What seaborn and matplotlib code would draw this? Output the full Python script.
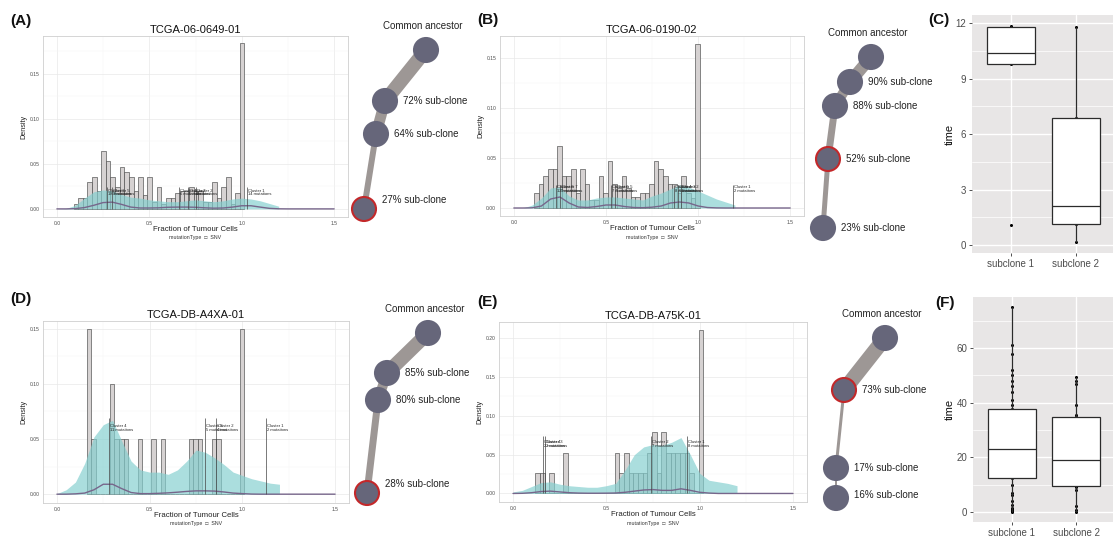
import numpy as np
import pandas as pd
import seaborn as sns
import matplotlib.pyplot as plt
from matplotlib.ticker import MultipleLocator

sns.set_style("white")
plt.rcParams["font.family"] = ["Liberation Sans", "DejaVu Sans"]

W, H = 1113, 536
BIN = 0.025

# shared x grids for the density curves
teal_x = [0.00, 0.05, 0.10, 0.15, 0.20, 0.25, 0.30, 0.35, 0.40, 0.45, 0.50, 0.55,
          0.60, 0.65, 0.70, 0.75, 0.80, 0.85, 0.90, 0.95, 1.00, 1.05, 1.10, 1.15, 1.20]
line_x = [0.00, 0.05, 0.10, 0.15, 0.20, 0.25, 0.30, 0.35, 0.40, 0.45, 0.50, 0.55,
          0.60, 0.65, 0.70, 0.75, 0.80, 0.85, 0.90, 0.95, 1.00, 1.05, 1.10, 1.15,
          1.20, 1.25, 1.30, 1.35, 1.40, 1.45, 1.50]

# (A) TCGA-06-0649-01
a_start = 0.09
a_hist = [0.005, 0.012, 0.012, 0.030, 0.035, 0.020, 0.064, 0.053, 0.035, 0.024,
          0.047, 0.041, 0.035, 0.020, 0.035, 0.015, 0.035, 0.008, 0.024, 0.005,
          0.012, 0.012, 0.018, 0.020, 0.020, 0.024, 0.020, 0.020, 0.008, 0.008,
          0.030, 0.012, 0.024, 0.035, 0.005, 0.018, 0.184]
a_teal = [0, 0.0005, 0.004, 0.012, 0.019, 0.021, 0.020, 0.016, 0.013, 0.012, 0.010, 0.009,
          0.008, 0.008, 0.009, 0.010, 0.009, 0.008, 0.009, 0.011, 0.012, 0.011, 0.009, 0.006, 0.003]
a_line = [0, 0, 0.0003, 0.0015, 0.004, 0.007, 0.0075, 0.005, 0.002, 0.001, 0.001, 0.0012,
          0.0018, 0.002, 0.002, 0.0018, 0.0012, 0.0008, 0.001, 0.002, 0.0035, 0.0035, 0.002,
          0.0006, 0.0001, 0, 0, 0, 0, 0, 0]
a_clust_x = [0.27, 0.30, 0.66, 0.71, 0.75, 1.03]
a_clust_lab = ["Cluster 6\n18 mutations", "Cluster 5\n9 mutations", "Cluster 4\n6 mutations",
               "Cluster 3\n5 mutations", "Cluster 2\n4 mutations", "Cluster 1\n14 mutations"]

# (B) TCGA-06-0190-02
b_start = 0.11
b_hist = [0.015, 0.024, 0.032, 0.039, 0.039, 0.062, 0.032, 0.032, 0.039, 0.015,
          0.039, 0.024, 0.008, 0.008, 0.032, 0.015, 0.047, 0.024, 0.020, 0.032,
          0.020, 0.011, 0.011, 0.015, 0.015, 0.024, 0.047, 0.039, 0.032, 0.024,
          0.024, 0.015, 0.032, 0.015, 0.010, 0.164]
b_teal = [0, 0, 0.003, 0.010, 0.020, 0.021, 0.012, 0.008, 0.008, 0.010, 0.011, 0.011,
          0.010, 0.009, 0.008, 0.012, 0.015, 0.019, 0.023, 0.021, 0.017, 0.013, 0.009, 0.006, 0.003]
b_line = [0, 0, 0.0002, 0.002, 0.009, 0.011, 0.005, 0.001, 0.0005, 0.0015, 0.003, 0.003,
          0.0015, 0.0005, 0.0003, 0.0008, 0.002, 0.005, 0.006, 0.005, 0.002, 0.0005, 0.0001,
          0, 0, 0, 0, 0, 0, 0, 0]
b_clust_x = [0.23, 0.25, 0.53, 0.55, 0.87, 0.89, 0.91, 1.19]
b_clust_lab = ["Cluster 8\n12 mutations", "Cluster 7\n9 mutations", "Cluster 6\n7 mutations",
               "Cluster 5\n5 mutations", "Cluster 4\n8 mutations", "Cluster 3\n6 mutations",
               "Cluster 2\n5 mutations", "Cluster 1\n2 mutations"]

# (D) TCGA-DB-A4XA-01
d_start = 0.16
d_hist = [0.15, 0.05, 0, 0, 0, 0.10, 0.05, 0.05, 0.05, 0, 0, 0.05, 0, 0, 0.05, 0, 0.05,
          0, 0, 0, 0, 0, 0.05, 0.05, 0.05, 0, 0, 0.05, 0.05, 0, 0, 0, 0, 0.15]
d_teal = [0.0005, 0.004, 0.011, 0.028, 0.052, 0.063, 0.067, 0.048, 0.030, 0.022, 0.020, 0.020,
          0.018, 0.022, 0.030, 0.040, 0.038, 0.033, 0.027, 0.020, 0.017, 0.014, 0.012, 0.010, 0.009]
d_line = [0, 0, 0.0003, 0.001, 0.004, 0.009, 0.009, 0.005, 0.0015, 0.0005, 0.0005, 0.0008,
          0.0012, 0.0018, 0.0025, 0.003, 0.003, 0.0028, 0.002, 0.001, 0.0005, 0.0001,
          0, 0, 0, 0, 0, 0, 0, 0, 0]
d_clust_x = [0.28, 0.80, 0.86, 1.13]
d_clust_lab = ["Cluster 4\n11 mutations", "Cluster 3\n5 mutations",
               "Cluster 2\n4 mutations", "Cluster 1\n2 mutations"]

# (E) TCGA-DB-A75K-01
e_start = 0.12
e_hist = [0.0265, 0.0265, 0, 0.0265, 0, 0, 0.052, 0, 0, 0, 0, 0, 0, 0, 0, 0, 0,
          0.052, 0.0265, 0.052, 0.0265, 0.0265, 0.0265, 0.0265, 0.052, 0.079, 0.0265,
          0.079, 0.052, 0.052, 0.052, 0.052, 0.052, 0.0265, 0, 0.211]
e_teal = [0.002, 0.004, 0.009, 0.014, 0.015, 0.012, 0.010, 0.009, 0.008, 0.008, 0.010, 0.013,
          0.030, 0.050, 0.060, 0.063, 0.062, 0.066, 0.072, 0.050, 0.026, 0.017, 0.015, 0.013, 0.010]
e_line = [0, 0.0002, 0.001, 0.0025, 0.003, 0.002, 0.001, 0.0005, 0.0003, 0.0003, 0.0004, 0.0006,
          0.0015, 0.003, 0.0045, 0.005, 0.004, 0.004, 0.006, 0.004, 0.0015, 0.0005,
          0, 0, 0, 0, 0, 0, 0, 0, 0]
e_clust_x = [0.16, 0.17, 0.74, 0.93]
e_clust_lab = ["Cluster 4\n2 mutations", "Cluster 3\n2 mutations",
               "Cluster 2\n7 mutations", "Cluster 1\n8 mutations"]

# clone trees (layout as drawn)
tree_a_x = [426, 385, 376, 364]
tree_a_y = [50, 101, 134, 209]
tree_a_lab = ["Common ancestor", "72% sub-clone", "64% sub-clone", "27% sub-clone"]
tree_a_w = [14, 11, 6]
tree_b_x = [871, 850, 835, 828, 823]
tree_b_y = [57, 82, 106, 159, 228]
tree_b_lab = ["Common ancestor", "90% sub-clone", "88% sub-clone", "52% sub-clone", "23% sub-clone"]
tree_b_w = [12, 10, 7, 5]
tree_d_x = [428, 387, 378, 367]
tree_d_y = [333, 373, 400, 493]
tree_d_lab = ["Common ancestor", "85% sub-clone", "80% sub-clone", "28% sub-clone"]
tree_d_w = [14, 10, 7]
tree_e_x = [885, 844, 836, 836]
tree_e_y = [338, 390, 468, 498]
tree_e_lab = ["Common ancestor", "73% sub-clone", "17% sub-clone", "16% sub-clone"]
tree_e_w = [15, 3, 2]

# timing box plots
clones = ["subclone 1", "subclone 2"]
c_sub1 = [1.1, 9.8, 10.4, 11.8, 11.85]
c_sub2 = [0.15, 1.15, 2.1, 6.9, 11.8]
f_sub1 = [0, 0.2, 0.5, 1, 1.5, 2.5, 4, 6, 7, 10, 12.3, 13, 15, 16, 17, 18, 19, 20, 21, 22,
          23, 24, 25, 27, 28, 30, 31, 33, 35, 36, 37.8, 39, 41, 44, 46, 48, 50, 52, 58, 61, 75]
f_sub2 = [0, 0.5, 2, 8, 9, 9.5, 12, 14, 16, 17.5, 19, 22, 26, 29, 32, 34.8, 35.5, 39, 47, 48, 49.5]

fig = plt.figure(figsize=(W / 100, H / 100), dpi=100)
fig.patch.set_facecolor("white")


def rect(left, top, right, bottom):
    return [left / W, 1 - bottom / H, (right - left) / W, (bottom - top) / H]


def ftext(x, y, s, **kw):
    fig.text(x / W, 1 - y / H, s, **kw)


def vaf_panel(px, title, start, hist, teal, line, cl_x, cl_lab, cl_top, cl_y, ylim, yticks):
    left, top, right, bottom = px
    ax = fig.add_axes(rect(*px))
    edges = start + BIN * np.arange(len(hist) + 1)
    bars = pd.DataFrame({"ccf": edges[:-1] + BIN / 2, "density": hist})
    sns.histplot(data=bars, x="ccf", weights="density", bins=edges.tolist(), ax=ax,
                 color="#d6d2d2", edgecolor="#4a4a4a", linewidth=0.45, alpha=1, zorder=2)
    ax.fill_between(teal_x, teal, color="#83cfcf", alpha=0.68, lw=0, zorder=3)
    sns.lineplot(x=line_x, y=line, ax=ax, color="#77668b", lw=1.0, zorder=4)
    ax.vlines(cl_x, 0, cl_top, color="#444444", lw=0.5, zorder=4)
    for x, s in zip(cl_x, cl_lab):
        ax.text(x + 0.005, cl_y, s, fontsize=3.0, ha="left", va="center",
                linespacing=0.85, color="#222222", zorder=5)
    ax.set_xlim(-0.075, 1.575)
    ax.set_ylim(*ylim)
    ax.set_xticks([0, 0.5, 1.0, 1.5])
    ax.set_xticklabels(["0.0", "0.5", "1.0", "1.5"])
    ax.set_yticks(yticks)
    ax.set_yticklabels([f"{v:.2f}" for v in yticks])
    ax.xaxis.set_minor_locator(MultipleLocator(0.25))
    ax.yaxis.set_minor_locator(MultipleLocator(0.025))
    ax.set_axisbelow(True)
    ax.grid(True, which="major", color="#e9e9e9", lw=0.5)
    ax.grid(True, which="minor", color="#f4f4f4", lw=0.35)
    ax.tick_params(axis="both", which="major", labelsize=3.6, length=1.2, width=0.4,
                   color="#777777", labelcolor="#4d4d4d", pad=1.5)
    ax.tick_params(which="minor", length=0)
    for sp in ax.spines.values():
        sp.set_color("#cfcfcf")
        sp.set_linewidth(0.6)
    ax.set_title(title, fontsize=8, pad=2.5, color="#111111")
    ax.set_xlabel("Fraction of Tumour Cells", fontsize=5.6, labelpad=0.5, color="#222222")
    ax.set_ylabel("Density", fontsize=5.2, labelpad=1.5, color="#222222")
    ax.text(0.5, -21 / (bottom - top), "mutationType  \u25a1  SNV", transform=ax.transAxes,
            ha="center", va="center", fontsize=3.8, color="#333333")
    return ax


vaf_panel((43, 36, 348, 217), "TCGA-06-0649-01", a_start, a_hist, a_teal, a_line,
          a_clust_x, a_clust_lab, 0.024, 0.018, (-0.009, 0.192), [0, 0.05, 0.10, 0.15])
vaf_panel((500, 36, 804, 216), "TCGA-06-0190-02", b_start, b_hist, b_teal, b_line,
          b_clust_x, b_clust_lab, 0.023, 0.019, (-0.008, 0.172), [0, 0.05, 0.10, 0.15])
vaf_panel((43, 321, 349, 503), "TCGA-DB-A4XA-01", d_start, d_hist, d_teal, d_line,
          d_clust_x, d_clust_lab, 0.069, 0.060, (-0.008, 0.157), [0, 0.05, 0.10, 0.15])
vaf_panel((499, 322, 807, 502), "TCGA-DB-A75K-01", e_start, e_hist, e_teal, e_line,
          e_clust_x, e_clust_lab, 0.074, 0.064, (-0.011, 0.221), [0, 0.05, 0.10, 0.15, 0.20])


def time_panel(px, sub1, sub2, ylim, major, minor):
    ax = fig.add_axes(rect(*px))
    df = pd.DataFrame({"clone": [clones[0]] * len(sub1) + [clones[1]] * len(sub2),
                       "time": sub1 + sub2})
    ax.set_facecolor("#e8e6e6")
    sns.stripplot(data=df, x="clone", y="time", order=clones, jitter=False, size=2.2,
                  color="black", ax=ax, zorder=2)
    sns.boxplot(data=df, x="clone", y="time", order=clones, color="white", width=0.75,
                linecolor="#2b2b2b", linewidth=0.9, showfliers=False, showcaps=False,
                ax=ax, zorder=3, boxprops={"facecolor": "white"})
    ax.set_xlim(-0.6, 1.57)
    ax.set_ylim(*ylim)
    ax.yaxis.set_major_locator(MultipleLocator(major))
    ax.yaxis.set_minor_locator(MultipleLocator(minor))
    ax.set_axisbelow(True)
    ax.grid(True, which="major", color="white", lw=1.0)
    ax.grid(True, which="minor", axis="y", color="white", lw=0.5)
    for sp in ax.spines.values():
        sp.set_visible(False)
    ax.tick_params(axis="both", which="major", labelsize=7, length=2.5, width=0.6,
                   color="#333333", labelcolor="#4d4d4d", pad=1.5, left=True, bottom=True)
    ax.tick_params(which="minor", length=0)
    ax.set_xlabel("")
    ax.set_ylabel("time", fontsize=8, labelpad=1, color="#111111")
    return ax


time_panel((972, 15, 1113, 253), c_sub1, c_sub2, (-0.43, 12.45), 3, 1.5)
time_panel((973, 297, 1113, 522), f_sub1, f_sub2, (-3.75, 78.75), 20, 10)

# clone trees
tree_ax = fig.add_axes([0, 0, 1, 1], zorder=-1)
tree_ax.set_xlim(0, W)
tree_ax.set_ylim(H, 0)
tree_ax.axis("off")
tree_ax.patch.set_alpha(0)


def draw_tree(xs, ys, labels, widths, red, low_dy):
    for i, w in enumerate(widths):
        tree_ax.plot(xs[i:i + 2], ys[i:i + 2], color="#9d9795", lw=w * 0.72,
                     solid_capstyle="butt", zorder=1)
    edge = ["#c3282a" if i == red else "#66667a" for i in range(len(xs))]
    tree_ax.scatter(xs, ys, s=(24 * 0.72) ** 2, color="#66667a", edgecolors=edge,
                    linewidths=1.5, zorder=2)
    tree_ax.text(xs[0] - 3, ys[0] - 24, labels[0], ha="center", va="center",
                 fontsize=7, color="#222222")
    for i in range(1, len(xs)):
        dy = low_dy if i == len(xs) - 1 else 0
        tree_ax.text(xs[i] + 18, ys[i] + dy, labels[i], ha="left", va="center",
                     fontsize=7, color="#222222")


draw_tree(tree_a_x, tree_a_y, tree_a_lab, tree_a_w, 3, -9)
draw_tree(tree_b_x, tree_b_y, tree_b_lab, tree_b_w, 3, 0)
draw_tree(tree_d_x, tree_d_y, tree_d_lab, tree_d_w, 3, -9)
draw_tree(tree_e_x, tree_e_y, tree_e_lab, tree_e_w, 1, -3)

# panel letters
for x, y, s in [(10, 21, "(A)"), (477, 20, "(B)"), (928, 20, "(C)"),
                (10, 299, "(D)"), (477, 302, "(E)"), (935, 303, "(F)")]:
    ftext(x, y, s, ha="left", va="center", fontsize=11, fontweight="bold", color="#111111")

fig.savefig("out.png", dpi=100)
